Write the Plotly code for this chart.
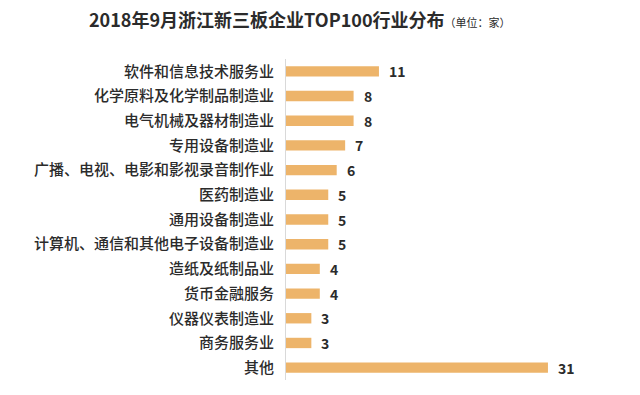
import plotly.graph_objects as go

categories = ["软件和信息技术服务业", "化学原料及化学制品制造业", "电气机械及器材制造业",
              "专用设备制造业", "广播、电视、电影和影视录音制作业", "医药制造业",
              "通用设备制造业", "计算机、通信和其他电子设备制造业", "造纸及纸制品业",
              "货币金融服务", "仪器仪表制造业", "商务服务业", "其他"]
values = [11, 8, 8, 7, 6, 5, 5, 5, 4, 4, 3, 3, 31]

W, H = 640, 395
L, R, T, B = 286, 20, 59, 15
xmax = (W - L - R) / 8.45

fig = go.Figure()
fig.add_trace(go.Bar(
    y=categories, x=values, orientation="h",
    marker=dict(color="#EDB46A", line=dict(width=0)),
    width=0.42, hoverinfo="skip",
))
for c, v in zip(categories, values):
    fig.add_annotation(x=v, y=c, text=f"<b>{v}</b>", showarrow=False,
                       xanchor="left", xshift=8,
                       font=dict(family="Noto Sans CJK SC", size=14, color="#2B2B2B"))

fig.add_annotation(xref="paper", yref="paper", x=(300 - L) / (W - L - R), y=1 + (T - 19) / (H - T - B),
                   text="<b>2018年9月浙江新三板企业TOP100行业分布</b><span style='font-size:11px'>（单位：家）</span>",
                   showarrow=False, xanchor="center", yanchor="middle",
                   font=dict(family="Noto Sans CJK SC", size=18, color="#2B2B2B"))

fig.update_layout(
    width=W, height=H,
    margin=dict(l=L, r=R, t=T, b=B),
    paper_bgcolor="white", plot_bgcolor="white",
    showlegend=False,
    xaxis=dict(range=[0, xmax], visible=False, fixedrange=True),
    yaxis=dict(autorange="reversed", showgrid=False, ticks="",
               showline=True, linecolor="#D9D9D9", linewidth=1,
               ticklabelstandoff=8, fixedrange=True,
               tickfont=dict(family="Noto Sans CJK SC", size=15, color="#2B2B2B", weight=500)),
)
fig.write_html("out.html", config={"displayModeBar": False},
               post_script="document.body.style.margin='0';document.body.style.overflow='hidden';")
